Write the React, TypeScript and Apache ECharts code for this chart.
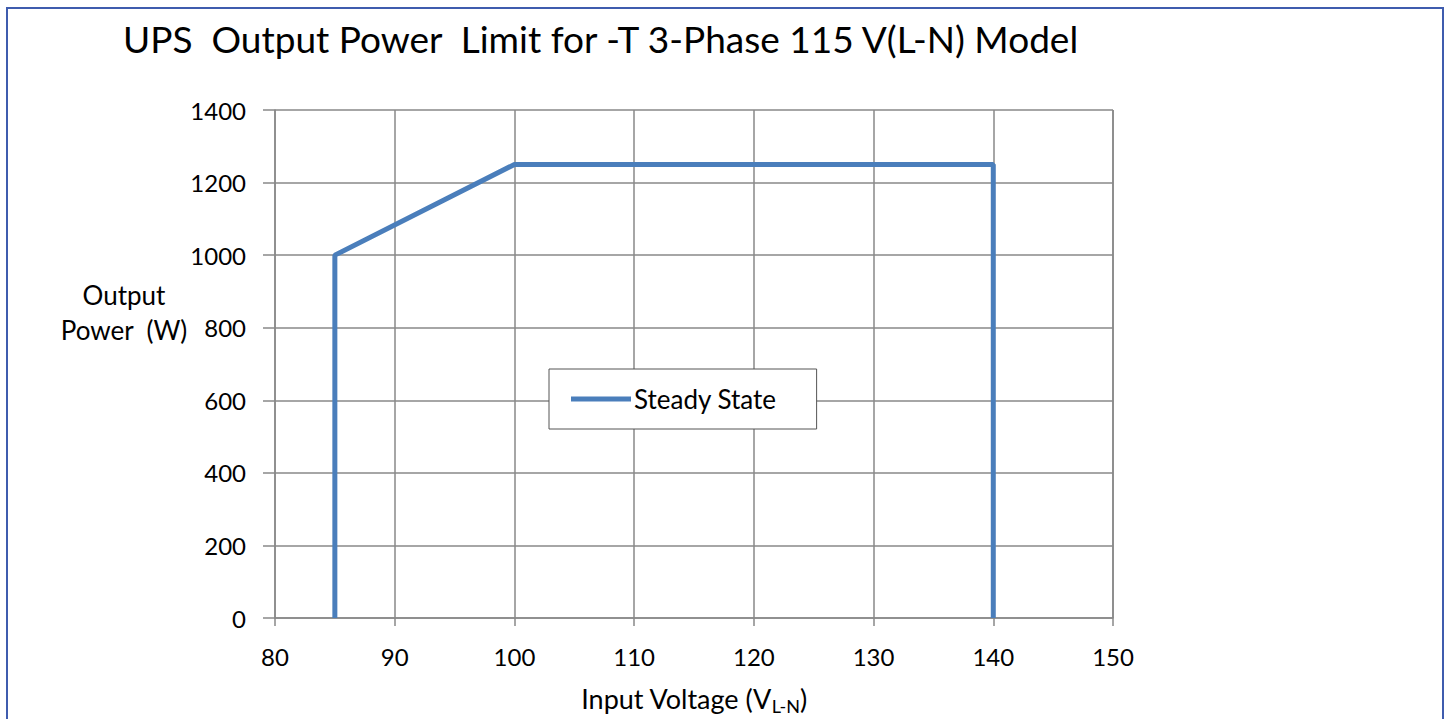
import React, { useEffect, useRef } from "react";
import * as echarts from "echarts";

const titleText = "UPS  Output Power  Limit for -T 3-Phase 115 V(L-N) Model";
const seriesName = "Steady State";
const voltage = [85, 85, 100, 140, 140];
const power = [0, 1000, 1250, 1250, 0];
const xTicks = { min: 80, max: 150, interval: 10 };
const yTicks = { min: 0, max: 1400, interval: 200 };

const FONT = "Lato, 'Open Sans', sans-serif";

export default function App() {
  const ref = useRef<HTMLDivElement>(null);
  useEffect(() => {
    if (!ref.current) return;
    const chart = echarts.init(ref.current, undefined, { renderer: "svg" });
    const data = voltage.map((v, i) => [v, power[i]]);
    chart.setOption({
      animation: false,
      backgroundColor: "#fff",
      textStyle: { fontFamily: FONT },
      title: {
        text: titleText,
        left: 118,
        top: 15,
        textStyle: { fontSize: 37, fontWeight: "normal", color: "#000", fontFamily: FONT },
      },
      grid: {
        left: 275,
        right: 338,
        top: 110,
        bottom: 101,
        containLabel: false,
        outerBoundsMode: "none",
      },
      legend: {
        left: 549,
        top: 369,
        orient: "horizontal",
        padding: [16, 40, 16, 22],
        borderColor: "#555",
        borderWidth: 1,
        backgroundColor: "#fff",
        itemWidth: 60,
        itemHeight: 14,
        icon: "path://M0,0L60,0L60,5L0,5Z",
        textStyle: { fontSize: 26, lineHeight: 28, color: "#000", fontFamily: FONT, padding: [0, 0, 0, -2] },
        data: [seriesName],
      },
      xAxis: {
        type: "value",
        min: xTicks.min,
        max: xTicks.max,
        interval: xTicks.interval,
        name: "Input Voltage (V{sub|L-N})",
        nameLocation: "middle",
        nameGap: 64,
        nameTextStyle: {
          fontSize: 27,
          color: "#000",
          fontFamily: FONT,
          rich: { sub: { fontSize: 18, verticalAlign: "bottom", padding: [15, 0, 0, 0], fontFamily: FONT, color: "#000" } },
        },
        axisLine: { show: true, lineStyle: { color: "#888", width: 1.5 } },
        axisTick: { show: true, length: 8, lineStyle: { color: "#888", width: 1.5 } },
        axisLabel: { fontSize: 24, color: "#000", margin: 26, fontFamily: FONT },
        splitLine: { show: true, lineStyle: { color: "#888", width: 1.5 } },
      },
      yAxis: {
        type: "value",
        min: yTicks.min,
        max: yTicks.max,
        interval: yTicks.interval,
        axisLine: { show: true, lineStyle: { color: "#888", width: 1.5 } },
        axisTick: { show: true, length: 12, lineStyle: { color: "#888", width: 1.5 } },
        axisLabel: { fontSize: 24, color: "#000", margin: 29, fontFamily: FONT, formatter: (v: number) => String(v) },
        splitLine: { show: true, lineStyle: { color: "#888", width: 1.5 } },
      },
      graphic: [
        {
          type: "rect",
          shape: { x: 7, y: 8, width: 1436, height: 730 },
          style: { fill: "none", stroke: "#3f5cae", lineWidth: 2 },
          silent: true,
        },
        {
          type: "rect",
          shape: { x: 1113, y: 110, width: 0, height: 508 },
          style: { fill: "none", stroke: "#888", lineWidth: 1.5 },
          silent: true,
        },
        {
          type: "text",
          x: 124,
          y: 277,
          style: {
            text: "Output\nPower  (W)",
            fontSize: 26,
            fontFamily: FONT,
            fill: "#000",
            align: "center",
            lineHeight: 35,
          },
          silent: true,
        },
      ],
      series: [
        {
          name: seriesName,
          type: "line",
          data,
          symbol: "none",
          lineStyle: { color: "#4a7ebb", width: 5 },
          itemStyle: { color: "#4a7ebb" },
        },
      ],
    });
    return () => chart.dispose();
  }, []);
  return (
    <div
      ref={ref}
      style={{ position: "fixed", left: 0, top: 0, width: 1451, height: 719 }}
    />
  );
}
